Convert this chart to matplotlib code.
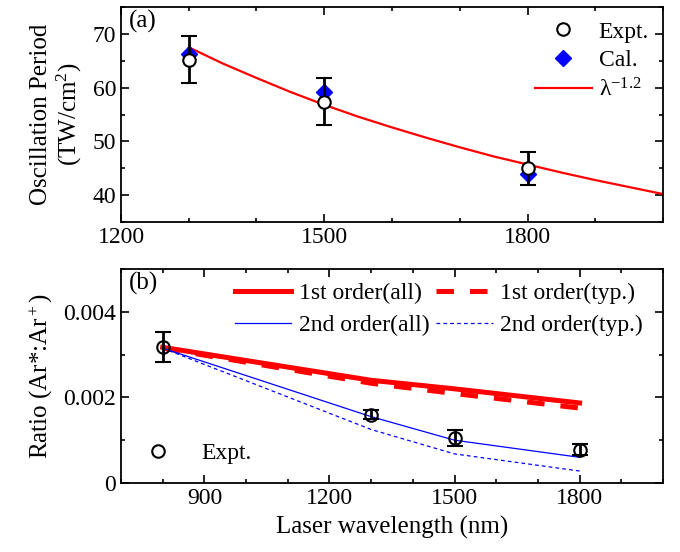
import matplotlib
matplotlib.use("Agg")
import matplotlib.pyplot as plt
from matplotlib.ticker import MultipleLocator
from matplotlib.lines import Line2D

plt.rcParams["font.family"] = ["Liberation Serif", "DejaVu Serif"]
plt.rcParams["mathtext.fontset"] = "custom"
plt.rcParams["mathtext.rm"] = "Liberation Serif"
plt.rcParams["mathtext.it"] = "Liberation Serif:italic"

# ── Panel (a) data ───────────────────────────────────────────────────────────
wl_a = [1300, 1500, 1800]
expt_a = [65.2, 57.4, 45.0]
expt_a_err = [4.4, 4.4, 3.1]
cal_a = [66.2, 59.2, 44.0]
fit_wl = [1300, 1350, 1400, 1450, 1500, 1550, 1600, 1650, 1700, 1750,
          1800, 1850, 1900, 1950, 2000]
fit_val = [67.5, 64.5, 61.8, 59.2, 56.8, 54.6, 52.6, 50.7, 48.9, 47.2,
           45.7, 44.2, 42.8, 41.5, 40.2]

# ── Panel (b) data ───────────────────────────────────────────────────────────
wl_b = [800, 1300, 1500, 1800]
expt_b = [0.00318, 0.00160, 0.00105, 0.00078]
expt_b_err = [0.00035, 0.00010, 0.00019, 0.00013]
first_all = [0.00317, 0.00240, 0.00220, 0.00187]
first_typ = [0.00315, 0.00233, 0.00209, 0.00175]
second_all = [0.00315, 0.00155, 0.00100, 0.00060]
second_typ = [0.00315, 0.00125, 0.00068, 0.00028]

FS = 17

fig = plt.figure(figsize=(6.8, 5.52), dpi=100)
ax1 = fig.add_axes([121 / 680, 1 - 222 / 552, 542 / 680, 215 / 552])
ax2 = fig.add_axes([121 / 680, 1 - 483 / 552, 542 / 680, 214 / 552])


def style(ax):
    ax.tick_params(which="both", direction="in", top=True, right=True,
                   labelsize=FS, width=1.2)
    ax.tick_params(which="major", length=6)
    ax.tick_params(which="minor", length=3)
    for s in ax.spines.values():
        s.set_linewidth(1.3)


# ── (a) ──────────────────────────────────────────────────────────────────────
ax1.plot(fit_wl, fit_val, color="red", lw=1.6, zorder=2)
ax1.plot(wl_a, cal_a, ls="none", marker="D", ms=8, color="blue", zorder=3)
ax1.errorbar(wl_a, expt_a, yerr=expt_a_err, fmt="o", ms=9, mfc="white",
             mec="black", mew=1.5, ecolor="black", elinewidth=2,
             capsize=6, capthick=2, zorder=4)
ax1.set_xlim(1200, 2000)
ax1.set_ylim(35, 75)
ax1.xaxis.set_major_locator(MultipleLocator(300))
ax1.xaxis.set_minor_locator(MultipleLocator(100))
ax1.yaxis.set_major_locator(MultipleLocator(10))
ax1.yaxis.set_minor_locator(MultipleLocator(5))
style(ax1)
ax1.set_ylabel("Oscillation Period\n(TW/cm$^2$)", fontsize=FS + 1, labelpad=6,
               linespacing=1.15)
ax1.text(0.015, 0.985, "(a)", transform=ax1.transAxes, fontsize=FS + 1,
         va="top", ha="left")
h_a = [
    Line2D([], [], ls="none", marker="o", ms=9, mfc="white", mec="black", mew=1.5),
    Line2D([], [], ls="none", marker="D", ms=8, color="blue"),
    Line2D([], [], color="red", lw=1.6),
]
ax1.legend(h_a, ["Expt.", "Cal.", "λ$^{\\mathregular{-1.2}}$"], loc="upper right",
           frameon=False, fontsize=FS, handlelength=2.4, labelspacing=0.3,
           borderaxespad=0.2, handletextpad=0.3)

# ── (b) ──────────────────────────────────────────────────────────────────────
l1, = ax2.plot(wl_b, first_all, color="red", lw=3.6, zorder=3)
l2, = ax2.plot(wl_b, first_typ, color="red", lw=3.6, ls=(0, (3.5, 3.2)), zorder=2)
l3, = ax2.plot(wl_b, second_all, color="blue", lw=0.9, zorder=3)
l4, = ax2.plot(wl_b, second_typ, color="blue", lw=0.9, ls=(0, (3, 2.5)), zorder=2)
ax2.errorbar(wl_b, expt_b, yerr=expt_b_err, fmt="o", ms=9, mfc="none",
             mec="black", mew=1.5, ecolor="black", elinewidth=2,
             capsize=6, capthick=2, zorder=4)
ax2.set_xlim(700, 2000)
ax2.set_ylim(0, 0.005)
ax2.xaxis.set_major_locator(MultipleLocator(300))
ax2.xaxis.set_minor_locator(MultipleLocator(100))
ax2.yaxis.set_major_locator(MultipleLocator(0.002))
ax2.yaxis.set_minor_locator(MultipleLocator(0.001))
ax2.yaxis.set_major_formatter(plt.FuncFormatter(
    lambda v, p: "0" if v == 0 else f"{v:.3f}"))
style(ax2)
ax2.set_ylabel("Ratio (Ar*:Ar$^+$)", fontsize=FS + 1, labelpad=6)
ax2.set_xlabel("Laser wavelength (nm)", fontsize=FS + 1, labelpad=5)
ax2.text(0.015, 0.985, "(b)", transform=ax2.transAxes, fontsize=FS + 1,
         va="top", ha="left")
leg = ax2.legend([l1, l3, l2, l4],
                 ["1st order(all)", "2nd order(all)",
                  "1st order(typ.)", "2nd order(typ.)"],
                 ncol=2, loc="upper right", frameon=False, fontsize=FS,
                 handlelength=2.4, columnspacing=0.3, labelspacing=0.45,
                 handletextpad=0.3, borderaxespad=0.0,
                 bbox_to_anchor=(0.98, 0.98))
ax2.add_artist(leg)
h_e = [Line2D([], [], ls="none", marker="o", ms=9, mfc="none", mec="black", mew=1.5)]
ax2.legend(h_e, ["Expt."], loc="lower left", frameon=False, fontsize=FS,
           handlelength=1.5, handletextpad=1.1, borderaxespad=0.4,
           bbox_to_anchor=(0.0, 0.0))

fig.savefig("out.png", dpi=100)
